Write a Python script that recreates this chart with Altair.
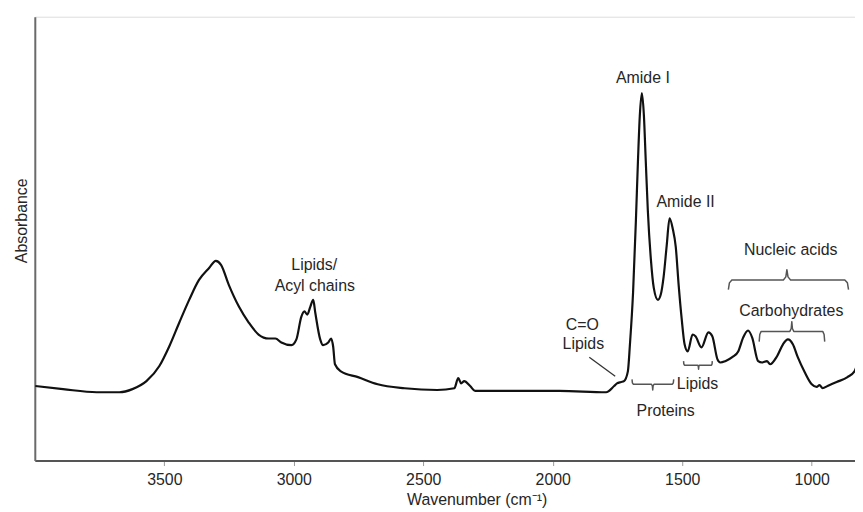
import altair as alt
import pandas as pd

# ---- spectrum (wavenumber cm-1, absorbance a.u.) ----
wavenumber = [
    3998, 3891, 3761, 3673, 3623, 3569, 3519, 3481, 3442, 3404, 3366, 3327, 3301, 3281,
    3251, 3212, 3174, 3136, 3097, 3071, 3048, 3009, 2990, 2971, 2959, 2948, 2936, 2925,
    2917, 2898, 2887, 2867, 2856, 2848, 2841, 2818, 2752, 2676, 2572, 2446, 2380, 2365,
    2354, 2342, 2319, 2300, 2139, 1974, 1794, 1763, 1752, 1736, 1725, 1710, 1702, 1690,
    1679, 1671, 1664, 1656, 1648, 1641, 1633, 1621, 1610, 1594, 1583, 1572, 1560, 1549,
    1537, 1525, 1514, 1502, 1491, 1479, 1460, 1449, 1426, 1399, 1384, 1364, 1353, 1334,
    1307, 1284, 1265, 1246, 1230, 1207, 1192, 1173, 1161, 1134, 1111, 1092, 1073, 1054,
    1027, 1000, 981, 970, 958, 939, 904, 862, 835, 824,
]
absorbance = [
    0.168, 0.161, 0.154, 0.154, 0.161, 0.179, 0.213, 0.257, 0.311, 0.362, 0.407, 0.434, 0.450, 0.441,
    0.396, 0.347, 0.311, 0.284, 0.275, 0.275, 0.266, 0.260, 0.273, 0.324, 0.336, 0.329, 0.347, 0.362,
    0.333, 0.273, 0.260, 0.266, 0.275, 0.257, 0.217, 0.201, 0.188, 0.172, 0.163, 0.159, 0.163, 0.186,
    0.174, 0.179, 0.168, 0.157, 0.157, 0.157, 0.154, 0.168, 0.174, 0.177, 0.179, 0.201, 0.262, 0.378,
    0.541, 0.676, 0.776, 0.828, 0.776, 0.676, 0.564, 0.452, 0.389, 0.362, 0.374, 0.414, 0.485, 0.546,
    0.523, 0.481, 0.396, 0.318, 0.262, 0.246, 0.284, 0.280, 0.255, 0.289, 0.280, 0.228, 0.221, 0.224,
    0.233, 0.246, 0.277, 0.293, 0.277, 0.224, 0.221, 0.224, 0.217, 0.235, 0.262, 0.273, 0.262, 0.233,
    0.199, 0.172, 0.166, 0.170, 0.163, 0.168, 0.177, 0.188, 0.201, 0.217,
]

# ---- annotation labels ----
label_text = ["Amide I", "Amide II", "Lipids/", "Acyl chains", "C=O", "Lipids",
              "Proteins", "Lipids", "Nucleic acids", "Carbohydrates"]
label_wn = [1652, 1487, 2921, 2919, 1886, 1882, 1564, 1441, 1081, 1079]
label_abs = [0.861, 0.582, 0.441, 0.394, 0.306, 0.262, 0.112, 0.172, 0.474, 0.336]

# ---- braces: left, centre, right wavenumber; end, bar and tip absorbance ----
brace_name = ["Nucleic acids", "Carbohydrates", "Lipids", "Proteins"]
brace_left = [1322, 1203, 1495, 1694]
brace_mid = [1096, 1077, 1437, 1614]
brace_right = [858, 950, 1384, 1533]
brace_end = [0.385, 0.268, 0.224, 0.183]
brace_bar = [0.407, 0.291, 0.215, 0.172]
brace_tip = [0.430, 0.313, 0.206, 0.159]

# leader line for C=O label
leader_wn = [1859, 1759]
leader_abs = [0.233, 0.190]

tick_values = [3500, 3000, 2500, 2000, 1500, 1000]

FONT = "Liberation Sans"
X_DOMAIN = [4000, 833]

spec = pd.DataFrame({"wn": wavenumber, "a": absorbance})
labels = pd.DataFrame({"t": label_text, "wn": label_wn, "a": label_abs})

rows = []
for i, n in enumerate(brace_name):
    l, m, r = brace_left[i], brace_mid[i], brace_right[i]
    e, b, t = brace_end[i], brace_bar[i], brace_tip[i]
    dl = (l - m) * 0.06
    dr = (m - r) * 0.06
    pts = [
        (l, e), (l - dl * 0.3, b + (e - b) * 0.3), (l - dl, b),
        (m + dl, b), (m + dl * 0.3, b + (t - b) * 0.3), (m, t),
        (m - dr * 0.3, b + (t - b) * 0.3), (m - dr, b),
        (r + dr, b), (r + dr * 0.3, b + (e - b) * 0.3), (r, e),
    ]
    for k, (w, a) in enumerate(pts):
        rows.append({"g": n + str(i), "k": k, "wn": w, "a": a})
braces = pd.DataFrame(rows)
leader = pd.DataFrame({"wn": leader_wn, "a": leader_abs, "k": [0, 1]})

xscale = alt.Scale(domain=X_DOMAIN, nice=False, zero=False)
yscale = alt.Scale(domain=[0, 1], nice=False, zero=False)

x_enc = alt.X(
    "wn:Q", scale=xscale,
    axis=alt.Axis(
        title="Wavenumber (cm⁻¹)", values=tick_values, format="d",
        grid=False, domainColor="#555555", domainWidth=2,
        tickColor="#9a9a9a", tickSize=5, tickWidth=1,
        labelFont=FONT, labelFontSize=16, labelColor="#262626", labelPadding=6,
        titleFont=FONT, titleFontSize=16, titleFontWeight="normal", titleColor="#262626",
        titleX=445, titleY=39, titleBaseline="middle", titleAlign="center",
    ),
)
y_enc = alt.Y(
    "a:Q", scale=yscale,
    axis=alt.Axis(
        title="Absorbance", grid=False, ticks=False, labels=False,
        domainColor="#6a6a6a", domainWidth=2,
        titleFont=FONT, titleFontSize=16, titleFontWeight="normal", titleColor="#262626",
        titleAngle=270, titleX=-13, titleY=205, titleBaseline="middle", titleAlign="center",
    ),
)

line = alt.Chart(spec).mark_line(
    color="#111111", strokeWidth=2.2, interpolate="monotone", clip=True
).encode(x=x_enc, y=y_enc)

brace_layer = alt.Chart(braces).mark_line(
    color="#555555", strokeWidth=1.5, strokeJoin="round", clip=True
).encode(
    x=alt.X("wn:Q", scale=xscale), y=alt.Y("a:Q", scale=yscale),
    detail="g:N", order="k:Q",
)

leader_layer = alt.Chart(leader).mark_line(color="#333333", strokeWidth=1.3).encode(
    x=alt.X("wn:Q", scale=xscale), y=alt.Y("a:Q", scale=yscale), order="k:Q"
)

text_layer = alt.Chart(labels).mark_text(
    font=FONT, fontSize=16, color="#262626", align="center", baseline="middle"
).encode(x=alt.X("wn:Q", scale=xscale), y=alt.Y("a:Q", scale=yscale), text="t:N")

chart = alt.layer(line, brace_layer, leader_layer, text_layer).properties(
    width=826, height=447,
    autosize=alt.AutoSizeParams(type="none"),
    padding={"left": 27, "top": 7, "right": 0, "bottom": 50},
).configure_view(stroke=None).configure(background="white")

chart.save("out.html", embed_options={"renderer": "svg", "actions": False})
